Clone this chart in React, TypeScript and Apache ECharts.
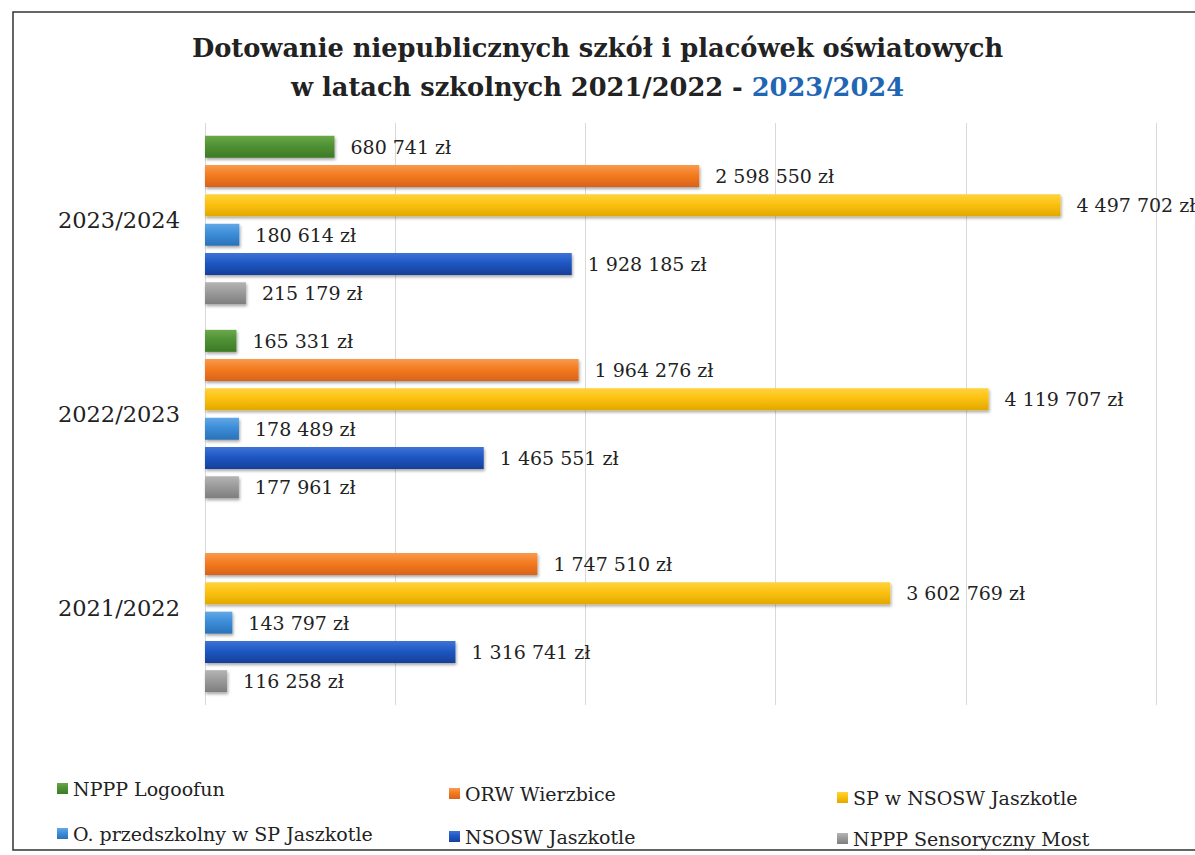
import React, { useEffect, useRef } from 'react';
import * as echarts from 'echarts';

const categories = ['2023/2024', '2022/2023', '2021/2022'];
const seriesNames = [
  'NPPP Logoofun',
  'ORW Wierzbice',
  'SP w NSOSW Jaszkotle',
  'O. przedszkolny w SP Jaszkotle',
  'NSOSW Jaszkotle',
  'NPPP Sensoryczny Most',
];
const logoofun = [680741, 165331, null];
const orwWierzbice = [2598550, 1964276, 1747510];
const spNsosw = [4497702, 4119707, 3602769];
const oPrzedszkolny = [180614, 178489, 143797];
const nsosw = [1928185, 1465551, 1316741];
const sensoryczny = [215179, 177961, 116258];
const seriesValues = [logoofun, orwWierzbice, spNsosw, oPrzedszkolny, nsosw, sensoryczny];

const xMin = 0;
const xMax = 5000000;
const xInterval = 1000000;

const palette = [
  ['#6aa84a', '#4f9134', '#3d7a26'],
  ['#f99a4e', '#f47b20', '#d9621a'],
  ['#ffd33d', '#fcc10f', '#e0a800'],
  ['#63a8e6', '#3d8ed8', '#2a72b8'],
  ['#3f73d4', '#1f58c4', '#173f99'],
  ['#b5b5b5', '#9b9b9b', '#7e7e7e'],
];

const FONT = '"DejaVu Serif", "Liberation Serif", serif';

function fmt(v: number): string {
  return String(v).replace(/\B(?=(\d{3})+(?!\d))/g, ' ') + ' zł';
}

export default function App() {
  const ref = useRef<HTMLDivElement>(null);
  useEffect(() => {
    if (!ref.current) return;
    const chart = echarts.init(ref.current, null, { renderer: 'svg' });
    const grad = (c: string[]) =>
      new echarts.graphic.LinearGradient(0, 0, 0, 1, [
        { offset: 0, color: c[0] },
        { offset: 0.45, color: c[1] },
        { offset: 1, color: c[2] },
      ]);
    const legendCol = (left: number, top: number, gap: number, data: string[]) => ({
      orient: 'vertical',
      left,
      top,
      itemGap: gap,
      itemWidth: 11,
      itemHeight: 11,
      itemTextGap: 7,
      icon: 'rect',
      data,
      selectedMode: false,
      textStyle: { fontFamily: FONT, fontSize: 19, color: '#222' },
    });
    chart.setOption({
      animation: false,
      backgroundColor: '#ffffff',
      title: [
        {
          text: 'Dotowanie niepublicznych szkół i placówek oświatowych',
          left: 'center',
          top: 30,
          textStyle: { fontFamily: FONT, fontWeight: 'bold', fontSize: 25.7, color: '#222' },
        },
        {
          text: '{a|w latach szkolnych 2021/2022 - }{b|2023/2024}',
          left: 'center',
          top: 69,
          textStyle: {
            rich: {
              a: { fontFamily: FONT, fontWeight: 'bold', fontSize: 25.7, color: '#222' },
              b: { fontFamily: FONT, fontWeight: 'bold', fontSize: 25.7, color: '#1f66b5' },
            },
          },
        },
      ],
      legend: [
        legendCol(52, 774, 26, [seriesNames[0], seriesNames[3]]),
        legendCol(444, 779, 24, [seriesNames[1], seriesNames[4]]),
        legendCol(832, 783, 22, [seriesNames[2], seriesNames[5]]),
      ],
      graphic: [
        {
          type: 'rect',
          silent: true,
          shape: { x: 13, y: 12, width: 1200, height: 838 },
          style: { fill: 'none', stroke: '#333', lineWidth: 1.5 },
        },
      ],
      grid: { left: 205, right: 39, top: 123, bottom: 150 },
      xAxis: {
        type: 'value',
        min: xMin,
        max: xMax,
        interval: xInterval,
        axisLabel: { show: false },
        axisLine: { show: false },
        axisTick: { show: false },
        splitLine: { show: true, lineStyle: { color: '#d9d9d9', width: 1 } },
      },
      yAxis: {
        type: 'category',
        data: categories,
        inverse: true,
        axisLine: { show: false },
        axisTick: { show: false },
        axisLabel: { fontFamily: FONT, fontSize: 22.5, color: '#222', margin: 25 },
      },
      series: seriesNames.map((name, i) => ({
        name,
        type: 'bar',
        data: seriesValues[i],
        barWidth: 22,
        barGap: '33%',
        itemStyle: {
          color: grad(palette[i]),
          shadowColor: 'rgba(0,0,0,0.35)',
          shadowBlur: 3,
          shadowOffsetY: 2,
          shadowOffsetX: 1,
        },
        label: {
          show: true,
          position: 'right',
          distance: 16,
          fontFamily: FONT,
          fontSize: 19,
          color: '#222',
          formatter: (p: any) => (p.value == null ? '' : fmt(p.value)),
        },
      })),
    });
    return () => chart.dispose();
  }, []);
  return (
    <div
      ref={ref}
      style={{ position: 'fixed', left: 0, top: 0, width: 1195, height: 855, background: '#fff' }}
    />
  );
}
